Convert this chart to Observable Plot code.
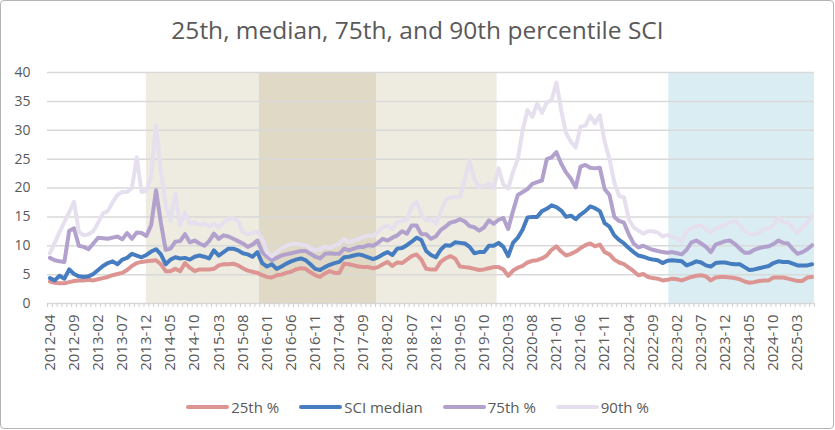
<!DOCTYPE html>
<html><head><meta charset="utf-8">
<script src="https://cdn.jsdelivr.net/npm/d3@7"></script>
<script src="https://cdn.jsdelivr.net/npm/@observablehq/plot@0.6"></script>
<style>
body{margin:0;background:#fff;}
#wrap{position:relative;width:835px;height:430px;font-family:"Open Sans",sans-serif;color:#595959;overflow:hidden;}
#frame{position:absolute;left:0;top:0;width:832px;height:427px;border:1px solid #b4b4b4;border-radius:4px;pointer-events:none;}
#title{position:absolute;left:0;top:2px;width:835px;height:55px;text-align:center;font-size:24.5px;line-height:55px;white-space:nowrap;}
#chart{position:absolute;left:0;top:55px;}
#legend{position:absolute;left:0;top:385px;width:835px;height:44px;display:flex;justify-content:center;align-items:center;font-size:15px;}
.item{display:flex;align-items:center;margin:0 10px;}
.sw{width:43px;height:4px;border-radius:2px;margin-right:2px;}
</style></head>
<body>
<div id="wrap">
  <div id="title">25th, median, 75th, and 90th percentile SCI</div>
  <div id="chart"></div>
  <div id="legend"></div>
  <div id="frame"></div>
</div>
<script>
// Categories: monthly from 2012-04
const months = [];
for (let i = 0; i < 159; i++) {
  const y = 2012 + Math.floor((3 + i) / 12);
  const m = (3 + i) % 12 + 1;
  months.push(`${y}-${String(m).padStart(2, "0")}`);
}
const yTicks = [0, 5, 10, 15, 20, 25, 30, 35, 40];

const seriesNames = ["25th %", "SCI median", "75th %", "90th %"];
const seriesColors = ["#dc9592", "#467dc0", "#b2a1cc", "#e6e0ee"];

const p25 = [
3.8, 3.6, 3.5, 3.5, 3.7, 3.9, 4.0, 4.0, 4.1, 4.0,
4.2, 4.4, 4.6, 4.9, 5.1, 5.3, 5.8, 6.5, 7.0, 7.2,
7.3, 7.4, 7.5, 6.8, 5.6, 5.6, 6.0, 5.6, 7.0,
6.2, 5.6, 5.9, 5.9, 5.9, 6.0, 6.6, 6.8, 6.8, 6.9,
6.6, 6.1, 5.7, 5.5, 5.3, 4.9, 4.6, 4.5, 4.9, 5.0,
5.3, 5.5, 5.9, 6.1, 6.0, 5.4, 4.9, 4.6,
5.2, 5.6, 5.3, 5.3, 6.9, 6.8, 6.6, 6.4, 6.3, 6.3,
6.1, 6.3, 6.8, 7.2, 6.5, 7.1, 7.0, 7.6, 8.2, 8.5,
7.6, 6.0, 5.9, 5.9, 7.2, 7.8, 8.2, 7.8,
6.4, 6.3, 6.2, 6.0, 5.8, 5.9, 6.1, 6.3, 6.3, 5.9,
4.8, 5.7, 6.2, 6.5, 7.1, 7.4, 7.5, 7.8, 8.3, 9.3,
9.9, 9.0, 8.3, 8.6, 9.0, 9.6, 10.1, 10.4,
9.9, 10.2, 8.9, 8.5, 7.6, 7.1, 6.8, 6.2, 5.6, 4.9,
5.1, 4.6, 4.4, 4.3, 4.0, 4.1, 4.3, 4.2, 4.0, 4.3,
4.6, 4.8, 4.9, 4.7, 4.0, 4.5, 4.6, 4.6,
4.5, 4.4, 4.2, 3.8, 3.6, 3.7, 3.9, 4.0, 4.0, 4.5,
4.5, 4.5, 4.3, 4.1, 3.9, 3.9, 4.5, 4.6
];

const median = [
4.4, 4.0, 4.8, 4.3, 5.9, 5.1, 4.7, 4.6, 4.7, 5.1,
5.8, 6.5, 7.0, 7.3, 6.8, 7.6, 7.9, 8.6, 8.3, 8.0,
8.4, 9.0, 9.4, 8.5, 6.8, 7.6, 8.0, 7.8, 7.9,
7.6, 8.1, 8.3, 8.1, 7.8, 9.2, 8.3, 8.9, 9.5, 9.5,
9.2, 8.7, 8.5, 8.1, 8.9, 7.0, 6.4, 6.8, 6.0, 6.4,
6.9, 7.3, 7.6, 7.8, 7.5, 6.8, 6.0, 5.8,
6.3, 6.7, 7.0, 7.2, 8.0, 8.1, 8.3, 8.5, 8.3, 8.0,
7.7, 8.0, 8.5, 8.9, 8.4, 9.5, 9.6, 10.1, 10.7, 11.4,
11.0, 9.1, 8.4, 8.0, 9.3, 10.1, 10.0, 10.6,
10.5, 10.4, 9.8, 8.7, 8.9, 8.9, 10.0, 10.0, 10.5, 9.8,
8.2, 10.5, 11.4, 12.8, 14.9, 15.0, 15.0, 16.0, 16.4, 17.0,
16.7, 16.1, 15.0, 15.2, 14.6, 15.4, 16.0, 16.8,
16.5, 16.0, 13.9, 13.3, 11.8, 11.0, 10.4, 9.6, 8.9, 8.3,
8.1, 7.8, 7.6, 7.5, 7.0, 7.4, 7.5, 7.4, 7.3, 6.6,
6.9, 7.3, 7.1, 6.6, 6.4, 7.0, 7.1, 7.1,
6.9, 6.8, 6.8, 6.3, 5.8, 5.9, 6.1, 6.3, 6.5, 7.0,
7.3, 7.2, 7.2, 6.9, 6.6, 6.6, 6.6, 6.8
];

const p75 = [
7.9, 7.5, 7.3, 7.2, 12.6, 13.0, 10.0, 9.8, 9.4, 10.4,
11.4, 11.3, 11.2, 11.4, 11.6, 11.1, 12.2, 11.2, 12.3, 12.2,
11.7, 13.6, 19.6, 14.0, 9.3, 9.5, 10.7, 10.8, 12.0,
10.6, 10.9, 10.4, 10.0, 10.8, 12.1, 11.2, 11.8, 11.6, 11.2,
10.8, 10.4, 9.8, 10.2, 10.9, 8.9, 8.1, 7.5, 7.9, 8.3,
8.5, 8.7, 8.9, 9.1, 9.1, 8.6, 8.1, 7.8,
8.6, 8.7, 8.6, 8.6, 9.5, 9.2, 9.5, 9.8, 9.8, 10.1,
10.0, 10.5, 11.2, 10.9, 11.4, 11.8, 12.5, 12.1, 13.5, 13.5,
12.0, 12.0, 11.2, 11.6, 12.7, 13.3, 14.0, 14.2,
14.6, 14.2, 13.4, 13.2, 12.6, 13.2, 14.4, 13.8, 14.5, 14.8,
12.9, 16.0, 18.8, 19.3, 19.8, 20.7, 21.0, 21.3, 25.0, 25.3,
26.2, 24.2, 22.7, 21.6, 20.1, 23.7, 24.0, 23.5,
23.4, 23.5, 19.8, 18.8, 15.0, 14.3, 14.0, 12.0, 10.4, 9.7,
10.0, 9.6, 9.3, 9.1, 8.9, 8.8, 8.9, 8.7, 8.5, 9.3,
10.6, 10.9, 10.4, 9.8, 8.9, 10.2, 10.5, 10.8,
10.9, 10.3, 9.5, 8.8, 8.8, 9.3, 9.6, 9.8, 9.9, 10.3,
10.9, 10.5, 10.4, 9.4, 8.6, 8.9, 9.4, 10.1
];

const p90 = [
8.7, 10.5, 12.4, 14.1, 15.8, 17.6, 12.4, 11.8, 12.0, 12.5,
14.0, 15.6, 16.0, 17.5, 18.8, 19.3, 19.3, 20.0, 25.3, 19.3,
19.5, 22.0, 30.8, 23.0, 17.0, 14.4, 19.0, 13.5, 15.8,
13.8, 14.1, 13.6, 13.8, 13.4, 13.8, 13.2, 14.0, 14.7, 14.7,
14.3, 12.3, 12.0, 12.2, 12.5, 11.2, 8.9, 8.2, 8.9, 9.5,
10.0, 10.3, 10.3, 10.2, 10.1, 9.5, 9.2, 9.4,
9.8, 9.6, 10.0, 10.4, 11.2, 10.6, 10.9, 11.2, 11.5, 11.8,
11.7, 12.4, 13.2, 13.5, 12.9, 14.1, 14.3, 14.4, 16.8, 17.6,
15.5, 14.4, 14.5, 13.8, 15.8, 17.8, 18.4, 18.4,
18.5, 21.5, 24.7, 21.5, 20.2, 20.3, 20.8, 20.0, 23.4, 20.6,
19.9, 22.8, 25.0, 30.0, 33.5, 32.3, 34.6, 33.0, 34.8, 35.2,
38.3, 33.4, 29.5, 28.0, 27.0, 30.6, 30.8, 32.5,
31.2, 32.6, 28.0, 25.0, 21.0, 18.6, 18.4, 14.6, 13.2, 12.6,
12.1, 12.5, 12.5, 12.3, 11.6, 11.9, 11.6, 11.3, 10.6, 12.6,
13.0, 13.4, 13.5, 12.8, 12.3, 13.0, 13.3, 13.6,
14.1, 14.3, 13.5, 12.6, 12.0, 12.0, 12.2, 12.9, 12.9, 13.6,
14.9, 14.0, 14.1, 13.0, 12.2, 13.2, 14.0, 15.2
];

// Shaded periods (in category-index units)
const bandStart = [20, 43.45, 128.3];
const bandEnd = [92.7, 67.7, 158.5];
const bandFill = ["#eeebe0", "#dfd9c5", "#daedf3"];

const seriesValues = [p25, median, p75, p90];
const gridColor = "#d9d9d9";

const marks = [];
bandStart.forEach((s, k) => {
  marks.push(Plot.rect([{from: s, to: bandEnd[k]}], {x1: "from", x2: "to", y1: 0, y2: 40, fill: bandFill[k]}));
});
marks.push(Plot.ruleY(yTicks, {stroke: gridColor, strokeWidth: 1.5}));
marks.push(Plot.axisX({ticks: d3.range(-0.5, months.length, 1), tickSize: 4, tickFormat: () => "", stroke: "#cfcfcf", label: null}));
marks.push(Plot.axisX({ticks: d3.range(0, months.length, 5), tickSize: 0, tickPadding: 11, tickRotate: -90, tickFormat: i => months[i], fontSize: 15, fill: "#595959", label: null}));
marks.push(Plot.axisY({ticks: yTicks, tickSize: 0, tickPadding: 17, fontSize: 14, fill: "#595959", label: null}));
seriesValues.forEach((vals, s) => {
  marks.push(Plot.line(vals, {x: (d, i) => i, y: d => d, stroke: seriesColors[s], strokeWidth: 4, strokeLinejoin: "round", strokeLinecap: "round"}));
});

const chart = Plot.plot({
  width: 835,
  height: 330,
  marginLeft: 47,
  marginRight: 21,
  marginTop: 17,
  marginBottom: 82,
  style: {fontFamily: "'Open Sans', sans-serif", color: "#595959", background: "transparent", overflow: "visible"},
  x: {type: "linear", domain: [-0.5, months.length - 0.5], axis: null},
  y: {domain: [0, 40], axis: null},
  marks
});
document.getElementById("chart").appendChild(chart);

const legend = document.getElementById("legend");
seriesNames.forEach((name, s) => {
  const item = document.createElement("div");
  item.className = "item";
  const sw = document.createElement("div");
  sw.className = "sw";
  sw.style.background = seriesColors[s];
  const label = document.createElement("span");
  label.textContent = name;
  item.appendChild(sw);
  item.appendChild(label);
  legend.appendChild(item);
});
</script>
</body></html>
